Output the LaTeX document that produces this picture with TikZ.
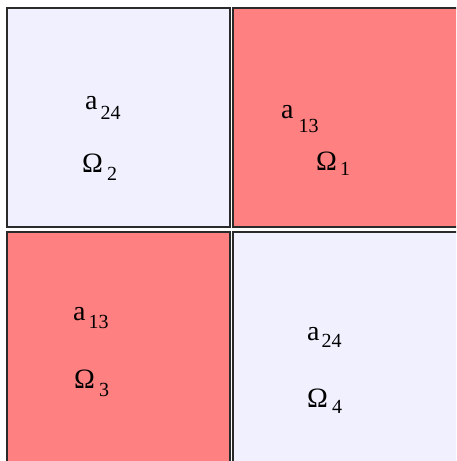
\documentclass[tikz,border=0pt]{standalone}
\usepackage{fontspec}
\setmainfont{Liberation Serif}
\usepackage{xcolor}
\definecolor{cPale}{HTML}{F0F0FF}
\definecolor{cHot}{HTML}{FF8080}
\definecolor{cEdge}{HTML}{2A2A2A}
\usetikzlibrary{positioning}
\tikzset{
  cell/.style={draw=cEdge,line width=1.6pt},
  cell-pale/.style={cell,fill=cPale},
  cell-hot/.style={cell,fill=cHot},
  lbl/.style={anchor=base west,inner sep=0pt,font=\fontsize{28}{28}\selectfont},
}
% index lowered below the main letter
\newcommand\labsub[4][3pt]{#2\kern#1\raisebox{-#4}{\fontsize{20}{20}\selectfont #3}}

\begin{document}
\begin{tikzpicture}[x=1pt,y=-1pt]
  \useasboundingbox[fill=white] (0,0) rectangle (456,461);
  \clip (0,0) rectangle (456,461);
  % the four subdomains
  \draw[cell-pale] (7,8) rectangle (230,227);
  \draw[cell-hot] (233,8) rectangle (470,227);
  \draw[cell-hot] (7,232) rectangle (230,480);
  \draw[cell-pale] (233,232) rectangle (470,480);
  % labels
  \node[lbl] (a2) at (85,109) {\labsub{a}{24}{10pt}};
  \node[lbl] (om2) at (82,172) {\labsub[4pt]{Ω}{2}{8pt}};
  \node[lbl] (a1) at (281,118) {\labsub[5pt]{a}{13}{14pt}};
  \node[lbl] (om1) at (316,170) {\labsub[3pt]{Ω}{1}{5pt}};
  \node[lbl] (a3) at (73,320) {\labsub{a}{13}{8pt}};
  \node[lbl] (om3) at (74,388) {\labsub[4pt]{Ω}{3}{8pt}};
  \node[lbl] (a4) at (307,340) {\labsub[2pt]{a}{24}{7pt}};
  \node[lbl] (om4) at (307,407) {\labsub[4pt]{Ω}{4}{6pt}};
\end{tikzpicture}
\end{document}
